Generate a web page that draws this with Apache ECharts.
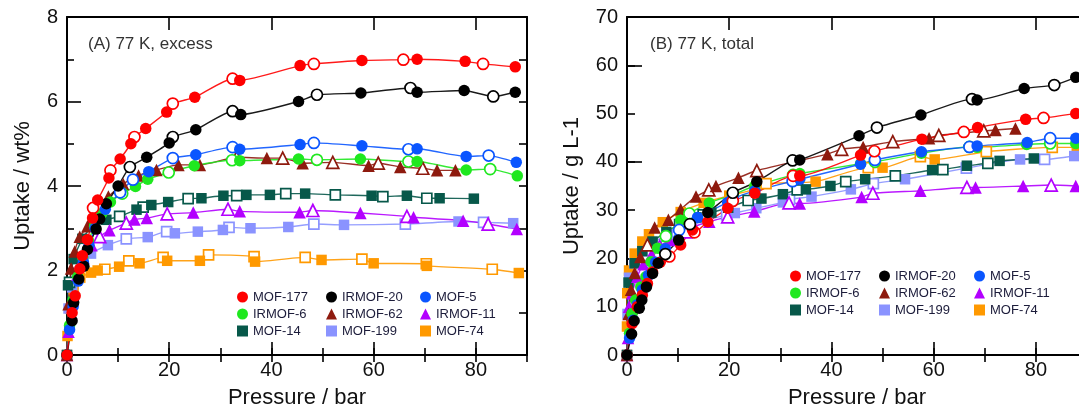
<!DOCTYPE html>
<html>
<head>
<meta charset="utf-8">
<script src="https://cdn.jsdelivr.net/npm/echarts@6/dist/echarts.min.js"></script>
<style>
  html, body { margin: 0; padding: 0; background: #ffffff; }
  #chart { width: 1079px; height: 412px; }
</style>
</head>
<body>
<div id="chart"></div>
<script>
// Hydrogen uptake at 77 K: (A) excess in wt%, (B) total in g/L, versus pressure in bar.
// Each material: [pressure, uptake] pairs; "Ads" = adsorption branch (filled marks),
// "Des" = desorption branch (open marks).

const materials = ['MOF-177', 'IRMOF-20', 'MOF-5', 'IRMOF-6', 'IRMOF-62', 'IRMOF-11', 'MOF-14', 'MOF-199', 'MOF-74'];

// ---- (A) excess uptake, wt% ----
const exAds177 = [[0,0],[1.0,1.0],[1.6,1.4],[2.5,2.04],[3.0,2.35],[4.0,2.73],[5.0,3.24],[6.0,3.67],[8.2,4.19],[10.4,4.64],[12.5,5.0],[15.4,5.36],[19.5,5.75],[25.0,6.1],[33.8,6.5],[45.6,6.85],[57.7,6.97],[68.5,7.0],[77.9,6.95],[87.7,6.82]];
const exDes177 = [[5.1,3.48],[8.5,4.37],[13.2,5.16],[20.7,5.95],[32.4,6.54],[48.3,6.89],[65.8,6.99],[81.4,6.89]];
const exAds20 = [[0,0],[1.0,0.81],[1.3,1.24],[2.3,1.8],[3.3,2.1],[4.0,2.5],[5.7,2.98],[6.4,3.22],[7.7,3.58],[10.0,4.0],[15.6,4.68],[20.0,5.02],[25.2,5.33],[34.0,5.69],[45.3,6.0],[57.5,6.2],[68.5,6.22],[77.7,6.26],[87.7,6.22]];
const exDes20 = [[12.3,4.45],[20.7,5.16],[32.4,5.77],[48.9,6.16],[67.2,6.32],[83.4,6.12]];
const exAds5 = [[0,0],[0.5,0.6],[1.2,1.15],[2.2,1.75],[3.2,2.2],[4.3,2.6],[5.5,3.0],[7.5,3.45],[16.0,4.34],[25.2,4.74],[33.8,4.87],[45.6,4.98],[57.7,4.95],[68.5,4.88],[78.1,4.7],[87.9,4.56]];
const exDes5 = [[10.4,3.85],[12.9,4.15],[20.7,4.66],[32.4,4.92],[48.3,5.02],[66.8,4.87],[82.5,4.72]];
const exAds6 = [[0,0],[0.5,0.7],[1.2,1.3],[2.1,1.85],[3.1,2.3],[4.2,2.7],[5.4,3.05],[6.8,3.35],[8.5,3.62],[13.4,3.99],[15.8,4.16],[24.9,4.48],[33.8,4.6],[45.3,4.64],[57.4,4.64],[68.5,4.58],[78.1,4.38],[88.1,4.24]];
const exDes6 = [[10.8,3.82],[19.9,4.32],[32.3,4.61],[48.9,4.62],[66.8,4.58],[82.8,4.4]];
const exAds62 = [[0,0],[0.3,1.2],[0.8,2.05],[1.5,2.45],[2.5,2.8],[4.0,3.05],[5.5,3.35],[8.1,3.75],[11.0,4.05],[14.0,4.25],[17.5,4.38],[21.8,4.5],[26.0,4.5],[39.1,4.66],[46.1,4.54],[59.0,4.48],[65.2,4.45],[72.4,4.37],[76.0,4.37]];
const exDes62 = [[6.5,3.55],[33.2,4.68],[42.2,4.66],[52.0,4.56],[60.9,4.54],[69.6,4.42]];
const exAds11 = [[0,0],[0.3,0.55],[1.0,1.3],[2.0,1.9],[3.2,2.3],[4.8,2.6],[8.3,2.95],[13.2,3.21],[15.6,3.24],[24.7,3.37],[33.8,3.4],[45.5,3.38],[57.4,3.36],[67.8,3.26],[77.5,3.18],[88.0,2.98]];
const exDes11 = [[6.4,2.8],[11.6,3.12],[19.6,3.34],[31.5,3.45],[48.1,3.42],[66.5,3.28],[82.4,3.1]];
const exAds14 = [[0,0],[0.2,1.65],[1.3,2.27],[3.0,2.75],[5.0,3.05],[7.7,3.2],[13.6,3.44],[16.5,3.55],[19.8,3.62],[26.3,3.71],[30.6,3.77],[35.1,3.79],[39.7,3.79],[46.6,3.82],[59.6,3.77],[66.5,3.77],[72.9,3.71],[79.6,3.7]];
const exDes14 = [[0.5,1.72],[10.3,3.28],[14.9,3.5],[23.7,3.7],[33.2,3.77],[42.8,3.82],[52.5,3.79],[61.8,3.75],[70.4,3.71]];
const exAds199 = [[0,0],[0.3,1.1],[1.0,1.6],[2.0,1.95],[3.0,2.2],[4.7,2.4],[8.0,2.6],[15.8,2.79],[21.1,2.88],[25.6,2.92],[30.5,2.96],[35.9,3.0],[43.3,3.03],[54.2,3.08],[76.6,3.16],[87.3,3.12]];
const exDes199 = [[11.6,2.75],[19.5,2.92],[31.7,3.02],[48.3,3.1],[66.2,3.1],[81.5,3.14]];
const exAds74 = [[0,0],[0.1,0.45],[0.6,1.1],[1.3,1.56],[2.6,1.83],[4.7,1.95],[6.0,2.0],[10.2,2.09],[14.2,2.17],[19.6,2.23],[26.0,2.23],[36.8,2.21],[49.8,2.25],[60.0,2.17],[70.4,2.11],[88.4,1.94]];
const exDes74 = [[7.4,2.03],[12.1,2.23],[18.8,2.31],[27.7,2.37],[36.6,2.33],[46.6,2.31],[57.7,2.27],[70.3,2.16],[83.2,2.03]];

// ---- (B) total uptake, g/L ----
const totAds177 = [[0,0],[1.0,6.5],[2.0,10.0],[3.0,12.4],[4.0,14.8],[5.0,17.2],[6.5,19.2],[10.5,22.8],[12.8,25.9],[15.8,27.6],[19.7,30.4],[25.0,33.5],[33.8,37.1],[45.7,41.4],[57.7,44.7],[68.6,47.1],[78.0,48.8],[87.8,50.0]];
const totDes177 = [[8.3,20.4],[13.2,25.4],[20.7,31.9],[32.5,37.1],[48.4,42.2],[65.9,46.2],[81.5,49.1]];
const totAds20 = [[0,0],[0.9,4.35],[1.4,7.1],[2.4,9.7],[2.9,11.4],[3.8,14.1],[5.0,16.9],[6.1,19.0],[10.1,23.8],[15.8,29.5],[25.4,35.9],[33.8,40.4],[45.4,45.4],[57.5,49.7],[68.5,52.8],[77.7,55.2],[87.8,57.5]];
const totDes20 = [[7.5,20.9],[12.3,27.1],[20.7,33.6],[32.4,40.3],[48.9,47.1],[67.5,53.0],[83.6,55.9]];
const totAds5 = [[0,0],[0.5,3.5],[1.2,7.2],[2.0,10.4],[3.0,13.5],[4.2,16.5],[5.6,19.2],[7.5,22.0],[13.8,28.5],[19.7,31.6],[25.0,34.0],[33.8,36.4],[45.7,39.5],[57.6,42.1],[68.5,43.3],[78.3,44.0],[87.8,44.9]];
const totDes5 = [[10.2,25.9],[20.7,32.4],[32.4,36.0],[48.5,40.4],[67.0,43.1],[82.8,44.9]];
const totAds6 = [[0,0],[0.5,4.5],[1.0,8.6],[1.7,11.4],[2.7,14.1],[3.7,16.2],[4.7,19.3],[6.0,22.1],[10.5,27.9],[16.1,31.5],[25.0,35.0],[33.8,37.6],[45.7,39.6],[57.6,41.8],[68.5,43.0],[78.2,43.6],[87.8,43.8]];
const totDes6 = [[7.6,24.6],[12.2,29.3],[20.7,33.2],[32.5,37.3],[48.5,40.0],[67.0,43.1],[82.8,43.8]];
const totAds62 = [[0,0],[0.3,8.5],[0.8,13.5],[1.5,17.0],[2.6,20.3],[5.4,26.4],[8.1,28.0],[10.5,30.2],[13.5,32.8],[17.4,35.0],[21.8,36.7],[39.2,41.6],[46.2,43.1],[59.1,44.9],[72.1,46.6],[76.0,46.9]];
const totDes62 = [[4.0,22.8],[16.0,34.2],[25.4,38.2],[42.0,42.6],[52.0,44.2],[61.0,45.5],[69.8,46.4]];
const totAds11 = [[0,0],[0.2,3.5],[0.4,10.0],[1.0,12.8],[2.0,16.2],[3.2,18.8],[4.8,20.8],[8.3,23.8],[13.2,26.6],[16.1,27.6],[24.9,29.7],[33.8,31.4],[45.9,32.7],[57.4,34.0],[68.2,34.7],[77.5,35.0],[87.8,35.0]];
const totDes11 = [[6.4,22.5],[11.6,25.5],[19.7,28.6],[31.7,31.5],[48.1,33.5],[66.5,34.7],[83.0,35.2]];
const totAds14 = [[0,0],[0.3,15.0],[1.5,19.0],[3.0,21.5],[5.0,23.5],[7.7,25.5],[13.6,28.5],[16.5,29.5],[19.8,30.5],[26.3,32.4],[30.5,33.3],[35.0,34.3],[39.8,35.0],[46.6,36.4],[59.7,38.3],[66.5,39.2],[72.9,40.2],[79.6,40.7]];
const totDes14 = [[10.3,27.0],[14.9,29.0],[23.7,32.0],[33.3,34.2],[42.8,35.9],[52.5,37.1],[61.8,38.4],[70.6,39.7]];
const totAds199 = [[0,0],[0.1,8.5],[0.4,16.0],[1.4,19.0],[3.0,21.5],[4.7,23.0],[8.0,25.0],[15.8,28.0],[21.1,29.4],[25.3,30.4],[30.5,31.6],[36.1,32.8],[43.8,34.3],[54.4,36.4],[76.9,40.5],[87.5,41.2]];
const totDes199 = [[11.6,26.5],[19.5,29.0],[31.8,32.2],[48.2,35.5],[66.4,38.7],[81.7,40.5]];
const totAds74 = [[0,0],[0.0,5.9],[0.05,12.8],[0.4,17.5],[1.5,21.0],[3.0,23.5],[4.3,25.0],[7.0,27.5],[10.5,29.6],[15.0,31.5],[20.0,33.0],[25.0,34.3],[36.9,35.9],[50.0,38.8],[60.2,40.5],[88.0,43.0]];
const totDes74 = [[27.2,35.5],[47.2,38.8],[57.4,41.1],[70.3,42.1],[83.2,43.0]];

// Axis tick values
const pressureMajorStep = 20, pressureMinorStep = 10, pressureMax = 90;
const excessLabelStep = 2, excessMax = 8;
const totalLabelStep = 10, totalMax = 70;

// Branch lookup per panel
const excessSets = {
  'MOF-177': [exAds177, exDes177], 'IRMOF-20': [exAds20, exDes20], 'MOF-5': [exAds5, exDes5],
  'IRMOF-6': [exAds6, exDes6], 'IRMOF-62': [exAds62, exDes62], 'IRMOF-11': [exAds11, exDes11],
  'MOF-14': [exAds14, exDes14], 'MOF-199': [exAds199, exDes199], 'MOF-74': [exAds74, exDes74]
};
const totalSets = {
  'MOF-177': [totAds177, totDes177], 'IRMOF-20': [totAds20, totDes20], 'MOF-5': [totAds5, totDes5],
  'IRMOF-6': [totAds6, totDes6], 'IRMOF-62': [totAds62, totDes62], 'IRMOF-11': [totAds11, totDes11],
  'MOF-14': [totAds14, totDes14], 'MOF-199': [totAds199, totDes199], 'MOF-74': [totAds74, totDes74]
};

// ---- styling ----
const FONT = '"Liberation Sans", Arial, Helvetica, sans-serif';
const look = {
  'MOF-177':  { color: '#ff0000', shape: 'circle' },
  'IRMOF-20': { color: '#000000', shape: 'circle' },
  'MOF-5':    { color: '#0a55ff', shape: 'circle' },
  'IRMOF-6':  { color: '#1fe81f', shape: 'circle' },
  'IRMOF-62': { color: '#8e1a0e', shape: 'triangle' },
  'IRMOF-11': { color: '#b300ff', shape: 'triangle' },
  'MOF-14':   { color: '#07584a', shape: 'rect' },
  'MOF-199':  { color: '#8a93ff', shape: 'rect' },
  'MOF-74':   { color: '#ff9900', shape: 'rect' }
};
const shapeSize = { circle: 11.5, triangle: 12.5, rect: 10.5 };
const drawOrderA = ['MOF-74', 'MOF-199', 'MOF-14', 'IRMOF-11', 'IRMOF-62', 'IRMOF-6', 'MOF-5', 'IRMOF-20', 'MOF-177'];
const drawOrderB = ['MOF-74', 'MOF-199', 'MOF-14', 'IRMOF-11', 'IRMOF-62', 'IRMOF-6', 'MOF-5', 'MOF-177', 'IRMOF-20'];

const axisLineStyle = { color: '#000', width: 2 };
const tickStyle = { color: '#000', width: 1.6 };

function xAxesFor(gridIndex) {
  const base = { gridIndex, type: 'value', min: 0, max: pressureMax, splitLine: { show: false } };
  const hidden = { show: false };
  return [
    Object.assign({}, base, {
      position: 'bottom', interval: pressureMajorStep,
      axisLine: { show: true, onZero: false, lineStyle: axisLineStyle },
      axisTick: { show: true, inside: true, length: 13, lineStyle: tickStyle },
      axisLabel: { show: true, showMaxLabel: false, margin: 5, fontSize: 20, color: '#111', fontFamily: FONT },
      name: 'Pressure / bar', nameLocation: 'middle', nameGap: 32,
      nameTextStyle: { fontSize: 22, color: '#111', fontFamily: FONT }
    }),
    Object.assign({}, base, {
      position: 'bottom', interval: pressureMinorStep,
      axisLine: hidden, axisLabel: hidden,
      axisTick: { show: true, inside: true, length: 7, lineStyle: tickStyle }
    }),
    Object.assign({}, base, {
      position: 'top', interval: pressureMajorStep,
      axisLine: { show: true, onZero: false, lineStyle: axisLineStyle },
      axisLabel: hidden,
      axisTick: { show: true, inside: true, length: 13, lineStyle: tickStyle }
    }),
    Object.assign({}, base, {
      position: 'top', interval: pressureMinorStep,
      axisLine: hidden, axisLabel: hidden,
      axisTick: { show: true, inside: true, length: 7, lineStyle: tickStyle }
    })
  ];
}

const yAxes = [
  // (A) left with labels, long ticks every 2, short ticks between
  {
    gridIndex: 0, type: 'value', position: 'left', min: 0, max: excessMax, interval: excessLabelStep,
    splitLine: { show: false },
    axisLine: { show: true, onZero: false, lineStyle: axisLineStyle },
    axisTick: { show: true, inside: true, length: 14, lineStyle: tickStyle },
    minorTick: { show: true, splitNumber: 2, length: 7, lineStyle: tickStyle },
    axisLabel: { show: true, margin: 9, fontSize: 20, color: '#111', fontFamily: FONT },
    name: 'Uptake / wt%', nameLocation: 'middle', nameGap: 33,
    nameTextStyle: { fontSize: 22, color: '#111', fontFamily: FONT }
  },
  // (A) right
  {
    gridIndex: 0, type: 'value', position: 'right', min: 0, max: excessMax, interval: 1,
    splitLine: { show: false },
    axisLine: { show: true, onZero: false, lineStyle: axisLineStyle },
    axisTick: { show: true, inside: true, length: 8, lineStyle: tickStyle },
    axisLabel: { show: false }
  },
  // (B) left with labels every 10, short ticks
  {
    gridIndex: 1, type: 'value', position: 'left', min: 0, max: totalMax, interval: totalLabelStep,
    splitLine: { show: false },
    axisLine: { show: true, onZero: false, lineStyle: axisLineStyle },
    axisTick: { show: true, inside: true, length: 8, lineStyle: tickStyle },
    axisLabel: { show: true, margin: 9, fontSize: 20, color: '#111', fontFamily: FONT },
    name: 'Uptake / g L-1', nameLocation: 'middle', nameGap: 44,
    nameTextStyle: { fontSize: 22, color: '#111', fontFamily: FONT }
  },
  // (B) left long ticks every 20
  {
    gridIndex: 1, type: 'value', position: 'left', min: 0, max: totalMax, interval: 20,
    splitLine: { show: false }, axisLine: { show: false }, axisLabel: { show: false },
    axisTick: { show: true, inside: true, length: 15, lineStyle: tickStyle }
  },
  // (B) right
  {
    gridIndex: 1, type: 'value', position: 'right', min: 0, max: totalMax, interval: 20,
    splitLine: { show: false },
    axisLine: { show: true, onZero: false, lineStyle: axisLineStyle },
    axisTick: { show: true, inside: true, length: 8, lineStyle: tickStyle },
    axisLabel: { show: false }
  }
];

function seriesFor(sets, order, xAxisIndex, yAxisIndex) {
  const out = [];
  order.forEach(function (name) {
    const st = look[name];
    const ads = sets[name][0];
    const des = sets[name][1];
    const size = shapeSize[st.shape];
    const curve = ads.concat(des).sort(function (a, b) { return a[0] - b[0]; });
    out.push({
      name: name + ' curve', type: 'line', xAxisIndex, yAxisIndex, data: curve,
      showSymbol: false, symbol: 'none', smooth: 0.2, silent: true, clip: false, z: 2,
      lineStyle: { color: st.color, width: 1.4, opacity: 0.9 }
    });
    out.push({
      name: name + ' desorption', type: 'scatter', xAxisIndex, yAxisIndex, data: des,
      symbol: st.shape, symbolSize: size - 0.5, clip: false, z: 3,
      itemStyle: { color: '#ffffff', borderColor: st.color, borderWidth: 1.7, opacity: 1 }
    });
    out.push({
      name: name, type: 'scatter', xAxisIndex, yAxisIndex, data: ads,
      symbol: st.shape, symbolSize: size, clip: false, z: 3,
      itemStyle: { color: st.color, opacity: 1 }
    });
  });
  return out;
}

function legendColumn(left, top, names) {
  return {
    orient: 'vertical', left, top, padding: 0, itemGap: 3, itemWidth: 11, itemHeight: 11,
    selectedMode: false, data: names,
    textStyle: { fontSize: 13, lineHeight: 14, color: '#1c1c3a', fontFamily: FONT, padding: [0, 0, 0, 0] }
  };
}
const legendCol1 = ['MOF-177', 'IRMOF-6', 'MOF-14'];
const legendCol2 = ['IRMOF-20', 'IRMOF-62', 'MOF-199'];
const legendCol3 = ['MOF-5', 'IRMOF-11', 'MOF-74'];

const chart = echarts.init(document.getElementById('chart'), null, { renderer: 'canvas' });
chart.setOption({
  animation: false,
  backgroundColor: '#ffffff',
  textStyle: { fontFamily: FONT },
  title: [
    { text: '(A) 77 K, excess', left: 88, top: 36, padding: 0,
      textStyle: { fontSize: 17, fontWeight: 'normal', color: '#333', fontFamily: FONT } },
    { text: '(B) 77 K, total', left: 650, top: 36, padding: 0,
      textStyle: { fontSize: 17, fontWeight: 'normal', color: '#333', fontFamily: FONT } }
  ],
  grid: [
    { left: 67, top: 17, width: 460, height: 338, containLabel: false, outerBoundsMode: 'none' },
    { left: 627, top: 17, width: 460, height: 338, containLabel: false, outerBoundsMode: 'none' }
  ],
  legend: [
    legendColumn(237, 290, legendCol1),
    legendColumn(326, 290, legendCol2),
    legendColumn(420, 290, legendCol3),
    legendColumn(790, 269, legendCol1),
    legendColumn(879, 269, legendCol2),
    legendColumn(974, 269, legendCol3)
  ],
  xAxis: xAxesFor(0).concat(xAxesFor(1)),
  yAxis: yAxes,
  series: seriesFor(excessSets, drawOrderA, 0, 0).concat(seriesFor(totalSets, drawOrderB, 4, 2))
});
</script>
</body>
</html>
